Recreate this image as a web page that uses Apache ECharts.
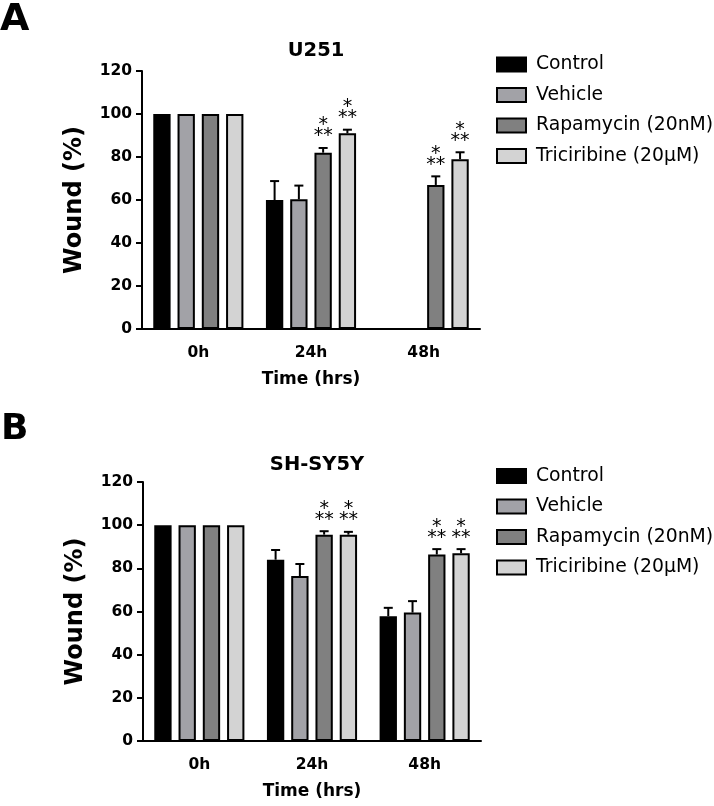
<!DOCTYPE html>
<html>
<head>
<meta charset="utf-8">
<script src="https://cdn.jsdelivr.net/npm/echarts@6/dist/echarts.min.js"></script>
<style>html,body{margin:0;padding:0;background:#fff}#c{width:714px;height:806px}</style>
</head>
<body>
<div id="c"></div>
<script>
// ---- data ----
const categories = ['0h', '24h', '48h'];
const seriesNames = ['Control', 'Vehicle', 'Rapamycin (20nM)', 'Triciribine (20µM)'];
const yTicks = [0, 20, 40, 60, 80, 100, 120];

// Panel A: U251 (mean, error)
const u251Control = [100, 60, null];
const u251Vehicle = [100, 60.3, null];
const u251Rapamycin = [100, 82, 67];
const u251Triciribine = [100, 91, 79];
const u251ControlErr = [0, 8.8, null];
const u251VehicleErr = [0, 6.4, null];
const u251RapamycinErr = [0, 2.2, 4];
const u251TriciribineErr = [0, 1.7, 3.2];

// Panel B: SH-SY5Y
const shControl = [100, 84, 57.8];
const shVehicle = [100, 76.4, 59.5];
const shRapamycin = [100, 95.6, 86.4];
const shTriciribine = [100, 95.6, 87];
const shControlErr = [0, 4.5, 3.9];
const shVehicleErr = [0, 5.6, 5.3];
const shRapamycinErr = [0, 1.6, 2.5];
const shTriciribineErr = [0, 1.3, 1.9];

// significance marks
const sigNone = ['', '', ''];
const sigRapamycin = ['', '*\n**', '*\n**'];
const sigTriciribine = ['', '*\n**', '*\n**'];

const colors = ['#000000', '#a2a2a7', '#808080', '#d3d3d3'];

const FONT = 'DejaVu Sans';
const panels = [
  { title: 'U251', means: [u251Control, u251Vehicle, u251Rapamycin, u251Triciribine],
    errs: [u251ControlErr, u251VehicleErr, u251RapamycinErr, u251TriciribineErr],
    sig: [sigNone, sigNone, sigRapamycin, sigTriciribine],
    grid: { left: 142, top: 71, width: 338, height: 258 }, titleTop: 36, legendTop: 50 },
  { title: 'SH-SY5Y', means: [shControl, shVehicle, shRapamycin, shTriciribine],
    errs: [shControlErr, shVehicleErr, shRapamycinErr, shTriciribineErr],
    sig: [sigNone, sigNone, sigRapamycin, sigTriciribine],
    grid: { left: 143, top: 482, width: 338, height: 259 }, titleTop: 450, legendTop: 461.5 }
];

const CAT_GAP = 0.2, BAR_GAP = 0.4;
const grids = [], xAxes = [], yAxes = [], series = [], titles = [], legends = [];

panels.forEach((p, pi) => {
  grids.push(p.grid);
  titles.push({ text: p.title, left: p.grid.left + p.grid.width / 2, top: p.titleTop, textAlign: 'center',
    textStyle: { fontFamily: FONT, fontWeight: 'bold', fontSize: 19.5, color: '#000' } });
  legends.push({ data: seriesNames, orient: 'vertical', left: 491, top: p.legendTop, itemWidth: 29, itemHeight: 14,
    itemGap: 11.5, icon: 'rect', selectedMode: false,
    textStyle: { fontFamily: FONT, fontSize: 18.8, color: '#000', padding: [0, 0, 0, 5] } });
  xAxes.push({ type: 'category', gridIndex: pi, data: categories,
    name: 'Time (hrs)', nameLocation: 'middle', nameGap: 42,
    nameTextStyle: { fontFamily: FONT, fontWeight: 'bold', fontSize: 17, color: '#000' },
    axisLine: { lineStyle: { color: '#000', width: 2 } },
    axisTick: { alignWithLabel: true, length: 6, lineStyle: { color: '#000', width: 2 } },
    axisLabel: { fontFamily: FONT, fontWeight: 'bold', fontSize: 15.5, color: '#000', margin: 16 },
    splitLine: { show: false } });
  yAxes.push({ type: 'value', gridIndex: pi, min: 0, max: 120, interval: 20,
    name: 'Wound (%)', nameLocation: 'middle', nameGap: 55,
    nameTextStyle: { fontFamily: FONT, fontWeight: 'bold', fontSize: 24, color: '#000' },
    axisLine: { show: true, lineStyle: { color: '#000', width: 2 } },
    axisTick: { show: true, length: 6, lineStyle: { color: '#000', width: 2 } },
    axisLabel: { fontFamily: FONT, fontWeight: 'bold', fontSize: 15.5, color: '#000', margin: 10,
      formatter: v => (yTicks.indexOf(v) >= 0 ? String(v) : '') },
    splitLine: { show: false } });

  p.means.forEach((vals, si) => {
    series.push({ type: 'bar', name: seriesNames[si], xAxisIndex: pi, yAxisIndex: pi,
      data: vals.map(v => (v == null ? '-' : v)),
      barCategoryGap: (CAT_GAP * 100) + '%', barGap: (BAR_GAP * 100) + '%',
      itemStyle: { color: colors[si], borderColor: '#000', borderWidth: 2 },
      emphasis: { disabled: true }, animation: false });
  });
  p.means.forEach((vals, si) => {
    const data = vals.map((v, ci) => [ci, v == null ? '-' : v, p.errs[si][ci] == null ? 0 : p.errs[si][ci], p.sig[si][ci]]);
    series.push({ type: 'custom', name: 'err' + pi + '_' + si, xAxisIndex: pi, yAxisIndex: pi, z: 5,
      silent: true, animation: false, encode: { x: 0, y: 1 },
      data: data,
      renderItem: (params, api) => {
        const ci = api.value(0), m = api.value(1), e = api.value(2);
        if (m == null || isNaN(m)) return;
        const band = api.size([1, 0])[0];
        const w = band * (1 - CAT_GAP) / (4 + 3 * BAR_GAP);
        const pitch = w * (1 + BAR_GAP);
        const c = api.coord([ci, m]);
        const t = api.coord([ci, m + e]);
        const x = c[0] + (si - 1.5) * pitch;
        const children = [];
        if (e > 0) {
          children.push({ type: 'line', shape: { x1: x, y1: c[1], x2: x, y2: t[1] }, style: { stroke: '#000', lineWidth: 2 } });
          children.push({ type: 'line', shape: { x1: x - 4.5, y1: t[1], x2: x + 4.5, y2: t[1] }, style: { stroke: '#000', lineWidth: 2 } });
        }
        const s = p.sig[si][ci];
        if (s) {
          children.push({ type: 'text', style: { text: s, x: x, y: t[1] - 6, align: 'center', verticalAlign: 'bottom',
            fontFamily: FONT, fontSize: 19, lineHeight: 11, fill: '#000' } });
        }
        return { type: 'group', children: children };
      } });
  });
});

const chart = echarts.init(document.getElementById('c'), null, { renderer: 'canvas' });
chart.setOption({
  animation: false,
  backgroundColor: '#fff',
  title: titles,
  legend: legends,
  grid: grids,
  xAxis: xAxes,
  yAxis: yAxes,
  series: series,
  graphic: [
    { type: 'text', left: 0, top: 1, style: { text: 'A', fontFamily: FONT, fontWeight: 'bold', fontSize: 38, fill: '#000' } },
    { type: 'text', left: 1, top: 412, style: { text: 'B', fontFamily: FONT, fontWeight: 'bold', fontSize: 36, fill: '#000' } }
  ]
});
</script>
</body>
</html>
